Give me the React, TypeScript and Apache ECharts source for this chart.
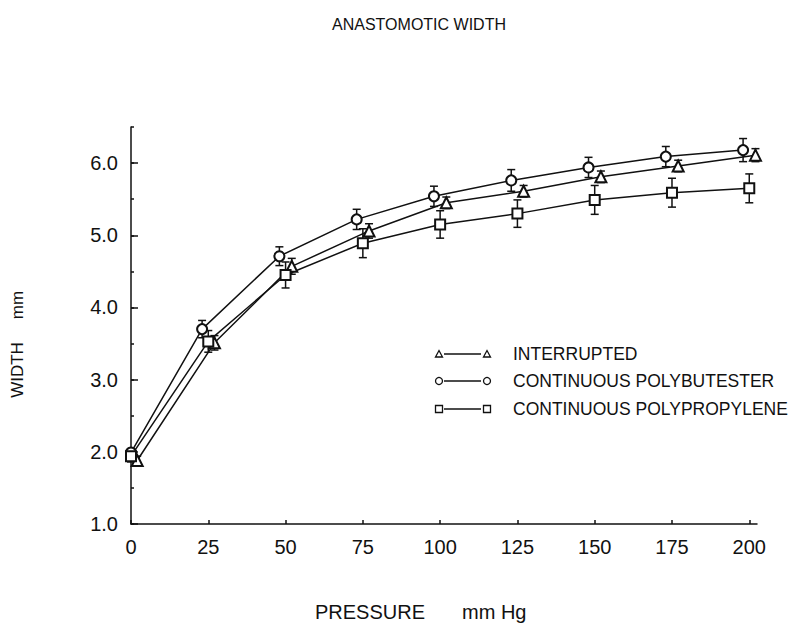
import React, { useEffect, useRef } from "react";
import * as echarts from "echarts";

// ---- Data ----
const pressureTicks = [0, 25, 50, 75, 100, 125, 150, 175, 200];
const widthTicks = [1, 2, 3, 4, 5, 6];

// Interrupted (triangles), plotted slightly right of the nominal pressure
const interruptedX = [2, 27, 52, 77, 102, 127, 152, 177, 202];
const interruptedY = [1.88, 3.51, 4.57, 5.06, 5.45, 5.61, 5.81, 5.96, 6.11];
const interruptedErr = [0.06, 0.1, 0.11, 0.1, 0.08, 0.08, 0.08, 0.08, 0.09];

// Continuous polybutester (circles), plotted slightly left
const butesterX = [0, 23, 48, 73, 98, 123, 148, 173, 198];
const butesterY = [1.99, 3.7, 4.71, 5.22, 5.54, 5.76, 5.94, 6.09, 6.18];
const butesterErr = [0.05, 0.12, 0.13, 0.14, 0.14, 0.15, 0.14, 0.14, 0.16];

// Continuous polypropylene (squares)
const propyleneX = [0, 25, 50, 75, 100, 125, 150, 175, 200];
const propyleneY = [1.94, 3.53, 4.45, 4.89, 5.15, 5.3, 5.49, 5.59, 5.65];
const propyleneErr = [0.08, 0.15, 0.18, 0.2, 0.19, 0.19, 0.2, 0.2, 0.2];

const legendNames = [
  "INTERRUPTED",
  "CONTINUOUS POLYBUTESTER",
  "CONTINUOUS POLYPROPYLENE",
];

const FONT = "Liberation Sans";
const INK = "#111";

function pts(xs: number[], ys: number[]) {
  return xs.map((x, i) => [x, ys[i]]);
}
function errs(xs: number[], ys: number[], es: number[]) {
  return xs.map((x, i) => [x, ys[i] - es[i], ys[i] + es[i]]);
}

function errorSeries(data: number[][]) {
  return {
    type: "custom",
    data,
    z: 1,
    renderItem: (params: any, api: any) => {
      const x = api.value(0);
      const lo = api.coord([x, api.value(1)]);
      const hi = api.coord([x, api.value(2)]);
      const cap = 4;
      const st = { stroke: INK, lineWidth: 1.5 };
      return {
        type: "group",
        children: [
          { type: "line", shape: { x1: lo[0], y1: lo[1], x2: hi[0], y2: hi[1] }, style: st },
          { type: "line", shape: { x1: lo[0] - cap, y1: lo[1], x2: lo[0] + cap, y2: lo[1] }, style: st },
          { type: "line", shape: { x1: hi[0] - cap, y1: hi[1], x2: hi[0] + cap, y2: hi[1] }, style: st },
        ],
      };
    },
  };
}

function lineSeries(name: string, data: number[][], symbol: string, size: number) {
  return {
    type: "line",
    name,
    data,
    symbol,
    symbolSize: size,
    z: 3,
    lineStyle: { color: INK, width: 1.5 },
    itemStyle: { color: INK, borderColor: INK, borderWidth: 1.5 },
  };
}

function legendRow(i: number, y: number, kind: string) {
  const x1 = 439;
  const x2 = 487;
  const st = { fill: "#fff", stroke: INK, lineWidth: 1.3 };
  const sym = (cx: number) => {
    if (kind === "triangle")
      return { type: "polygon", shape: { points: [[cx - 3.5, y + 3], [cx + 3.5, y + 3], [cx, y - 3.5]] }, style: st };
    if (kind === "circle") return { type: "circle", shape: { cx, cy: y, r: 3.5 }, style: st };
    return { type: "rect", shape: { x: cx - 3.5, y: y - 3.5, width: 7, height: 7 }, style: st };
  };
  return [
    { type: "line", shape: { x1: x1 + 5, y1: y, x2: x2 - 6, y2: y }, style: { stroke: INK, lineWidth: 1.3 } },
    sym(x1),
    sym(x2),
    {
      type: "text",
      x: 513,
      y,
      style: { text: legendNames[i], font: `17.5px "${FONT}"`, fill: INK, verticalAlign: "middle" },
    },
  ];
}

export default function App() {
  const ref = useRef<HTMLDivElement>(null);
  useEffect(() => {
    if (!ref.current) return;
    const chart = echarts.init(ref.current, null, { renderer: "svg" });
    const axisText = { color: INK, fontFamily: FONT, fontSize: 20 };
    chart.setOption({
      animation: false,
      backgroundColor: "#fff",
      grid: { left: 131, right: 42, top: 127, bottom: 107, containLabel: false },
      xAxis: {
        type: "value",
        min: 0,
        max: 202.5,
        interval: 25,
        axisLine: { lineStyle: { color: INK, width: 1.5 } },
        axisTick: { inside: true, length: 4, lineStyle: { color: INK, width: 1.5 }, customValues: pressureTicks },
        axisLabel: { ...axisText, margin: 13, customValues: pressureTicks },
        splitLine: { show: false },
      },
      yAxis: [
        {
          type: "value",
          min: 1,
          max: 6.5,
          interval: 0.5,
          position: "left",
          axisLine: { show: true, lineStyle: { color: INK, width: 1.5 } },
          axisTick: { show: true, inside: true, length: 3, lineStyle: { color: INK, width: 1.5 } },
          axisLabel: {
            ...axisText,
            margin: 13,
            customValues: widthTicks,
            formatter: (v: number) => v.toFixed(1),
          },
          splitLine: { show: false },
        },
        {
          type: "value",
          min: 1,
          max: 6.5,
          interval: 0.5,
          position: "left",
          offset: 0,
          axisLine: { show: false },
          axisTick: { show: true, inside: true, length: 7, lineStyle: { color: INK, width: 1.5 }, customValues: widthTicks },
          axisLabel: { show: false },
          splitLine: { show: false },
        },
      ],
      series: [
        errorSeries(errs(interruptedX, interruptedY, interruptedErr)),
        errorSeries(errs(butesterX, butesterY, butesterErr)),
        errorSeries(errs(propyleneX, propyleneY, propyleneErr)),
        lineSeries(legendNames[0], pts(interruptedX, interruptedY), "emptyTriangle", 11),
        lineSeries(legendNames[1], pts(butesterX, butesterY), "emptyCircle", 10),
        lineSeries(legendNames[2], pts(propyleneX, propyleneY), "emptyRect", 10),
      ],
      graphic: [
        {
          type: "text",
          x: 419,
          y: 24,
          style: { text: "ANASTOMOTIC WIDTH", font: `16px "${FONT}"`, fill: INK, align: "center", verticalAlign: "middle" },
        },
        {
          type: "text",
          x: 315,
          y: 612,
          style: { text: "PRESSURE", font: `20px "${FONT}"`, fill: INK, verticalAlign: "middle" },
        },
        {
          type: "text",
          x: 462,
          y: 612,
          style: { text: "mm Hg", font: `20px "${FONT}"`, fill: INK, verticalAlign: "middle" },
        },
        {
          type: "text",
          x: 17,
          y: 370,
          rotation: Math.PI / 2,
          style: { text: "WIDTH", font: `17px "${FONT}"`, fill: INK, align: "center", verticalAlign: "middle" },
        },
        {
          type: "text",
          x: 17,
          y: 305,
          rotation: Math.PI / 2,
          style: { text: "mm", font: `17px "${FONT}"`, fill: INK, align: "center", verticalAlign: "middle" },
        },
        ...legendRow(0, 354, "triangle"),
        ...legendRow(1, 381, "circle"),
        ...legendRow(2, 409, "rect"),
      ],
    });
    return () => chart.dispose();
  }, []);
  return <div ref={ref} style={{ width: 799, height: 631, position: "absolute", left: 0, top: 0 }} />;
}
